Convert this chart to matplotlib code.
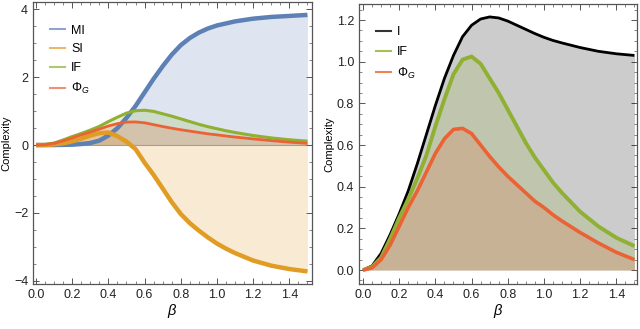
import matplotlib
matplotlib.use("Agg")
import matplotlib.pyplot as plt
from matplotlib.ticker import MultipleLocator
from matplotlib.lines import Line2D
import numpy as np

plt.rcParams['font.family'] = ['Liberation Sans', 'DejaVu Sans']
plt.rcParams['mathtext.fontset'] = 'custom'
plt.rcParams['mathtext.rm'] = 'Liberation Sans'
plt.rcParams['mathtext.it'] = 'Liberation Sans:italic'

beta = [0.0, 0.05, 0.1, 0.15, 0.2, 0.25, 0.3, 0.35, 0.4, 0.45, 0.5, 0.55, 0.6, 0.65,
        0.7, 0.75, 0.8, 0.85, 0.9, 0.95, 1.0, 1.05, 1.1, 1.2, 1.3, 1.4, 1.5]

MI = [0.0, 0.0, 0.0, 0.005, 0.01, 0.03, 0.06, 0.13, 0.28, 0.5, 0.8, 1.15, 1.55, 1.95,
      2.32, 2.66, 2.94, 3.15, 3.31, 3.43, 3.52, 3.58, 3.64, 3.72, 3.77, 3.8, 3.83]
SI = [0.0, 0.0, 0.02, 0.05, 0.11, 0.19, 0.28, 0.35, 0.37, 0.26, 0.1, -0.12, -0.52, -0.88,
      -1.28, -1.68, -2.03, -2.3, -2.52, -2.72, -2.9, -3.05, -3.18, -3.4, -3.55, -3.65, -3.72]
IF = [0.0, 0.015, 0.06, 0.15, 0.25, 0.34, 0.44, 0.55, 0.69, 0.82, 0.94, 1.01, 1.025, 0.99,
      0.92, 0.85, 0.77, 0.69, 0.61, 0.54, 0.48, 0.42, 0.37, 0.28, 0.21, 0.155, 0.115]
PHI = [0.0, 0.01, 0.05, 0.12, 0.21, 0.3, 0.38, 0.47, 0.56, 0.63, 0.675, 0.68, 0.655, 0.6,
       0.545, 0.495, 0.45, 0.41, 0.37, 0.33, 0.3, 0.265, 0.235, 0.18, 0.13, 0.085, 0.05]
I = [0.0, 0.02, 0.08, 0.17, 0.27, 0.38, 0.51, 0.65, 0.79, 0.92, 1.03, 1.12, 1.175, 1.205,
     1.215, 1.21, 1.195, 1.175, 1.155, 1.135, 1.117, 1.102, 1.09, 1.068, 1.05, 1.038, 1.03]

left_labels = ["MI", "SI", "IF", r"$\Phi_G$"]
right_labels = ["I", "IF", r"$\Phi_G$"]

C_BLUE = "#5E81B5"
C_ORANGE = "#E19C24"
C_GREEN = "#8FB032"
C_RED = "#EB6235"
C_BLACK = "#000000"

fig = plt.figure(figsize=(6.4, 3.29), dpi=100)
axL = fig.add_axes([33/640, 1-284/329, (312-33)/640, (284-2)/329])
axR = fig.add_axes([359/640, 1-284/329, (637-359)/640, (284-4)/329])

b = np.array(beta)

def style(ax):
    for s in ax.spines.values():
        s.set_color("#555555")
        s.set_linewidth(0.9)
    ax.tick_params(which="both", direction="in", top=True, right=True,
                   colors="#555555", labelcolor="#222222", labelsize=9)
    ax.tick_params(which="major", length=4, width=0.7)
    ax.tick_params(which="minor", length=2, width=0.5)
    ax.xaxis.set_major_locator(MultipleLocator(0.2))
    ax.xaxis.set_minor_locator(MultipleLocator(0.05))
    ax.set_xlabel(r"$\beta$", fontsize=10.5, labelpad=1)
    ax.set_ylabel("Complexity", fontsize=8, labelpad=2)

# Left panel
axL.axhline(0, color="#aaaaaa", lw=0.8, zorder=1)
series_L = [(MI, C_BLUE, 3.2), (SI, C_ORANGE, 3.2), (IF, C_GREEN, 2.2), (PHI, C_RED, 2.0)]
for (vals, c, lw), lab in zip(series_L, left_labels):
    axL.fill_between(b, 0, vals, color=c, alpha=0.2, lw=0, zorder=2)
for (vals, c, lw), lab in zip(series_L, left_labels):
    axL.plot(b, vals, color=c, lw=lw, label=lab, zorder=3, solid_capstyle="butt")
axL.set_xlim(-0.0166, 1.525)
axL.set_ylim(-4.09, 4.21)
axL.yaxis.set_major_locator(MultipleLocator(2))
axL.yaxis.set_minor_locator(MultipleLocator(0.5))
style(axL)

# Right panel
series_R = [(I, C_BLACK, 2.0), (IF, C_GREEN, 2.8), (PHI, C_RED, 2.6)]
for (vals, c, lw), lab in zip(series_R, right_labels):
    axR.fill_between(b, 0, vals, color=c, alpha=0.2, lw=0, zorder=2)
for (vals, c, lw), lab in zip(series_R, right_labels):
    axR.plot(b, vals, color=c, lw=lw, label=lab, zorder=3, solid_capstyle="butt")
axR.set_xlim(-0.022, 1.514)
axR.set_ylim(-0.067, 1.277)
axR.yaxis.set_major_locator(MultipleLocator(0.2))
axR.yaxis.set_minor_locator(MultipleLocator(0.05))
style(axR)

hL = [Line2D([], [], color=c, lw=1.5, alpha=0.7) for c in [C_BLUE, C_ORANGE, C_GREEN, C_RED]]
axL.legend(hL, left_labels, loc="upper left", bbox_to_anchor=(0.02, 0.96), frameon=False,
           fontsize=9, handlelength=1.2, labelspacing=0.55, handletextpad=0.5)
hR = [Line2D([], [], color=c, lw=1.5, alpha=0.8) for c in [C_BLACK, C_GREEN, C_RED]]
axR.legend(hR, right_labels, loc="upper left", bbox_to_anchor=(0.02, 0.96), frameon=False,
           fontsize=9, handlelength=1.2, labelspacing=0.6, handletextpad=0.5)

fig.savefig("out.png", dpi=100)
